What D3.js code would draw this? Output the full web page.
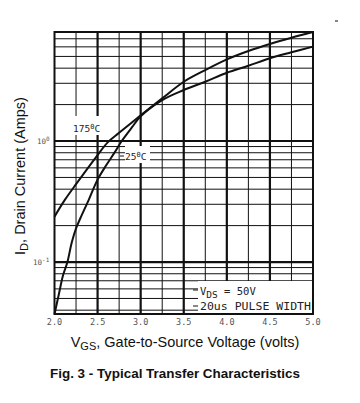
<!DOCTYPE html>
<html><head><meta charset="utf-8">
<script src="https://cdn.jsdelivr.net/npm/d3@7"></script>
<style>body{margin:0;background:#fff}svg{display:block}</style>
</head><body>
<script>
// ---- data ----
const vgs25   = [2.0, 2.05, 2.1, 2.15, 2.2, 2.25, 2.3, 2.4, 2.5, 2.6, 2.7, 2.78, 2.9, 3.0, 3.25, 3.5, 3.75, 4.0, 4.25, 4.5, 4.75, 5.0];
const id25    = [0.037, 0.054, 0.078, 0.10, 0.145, 0.19, 0.23, 0.33, 0.48, 0.63, 0.81, 1.0, 1.3, 1.6, 2.18, 2.64, 3.09, 3.67, 4.19, 4.83, 5.41, 6.03];
const vgs175  = [2.0, 2.12, 2.25, 2.5, 2.62, 2.75, 3.0, 3.25, 3.5, 3.75, 4.0, 4.25, 4.5, 4.75, 5.0];
const id175   = [0.237, 0.326, 0.44, 0.766, 0.98, 1.17, 1.63, 2.25, 3.09, 3.86, 4.73, 5.55, 6.34, 7.14, 7.96];
const xTicks  = [2.0, 2.5, 3.0, 3.5, 4.0, 4.5, 5.0];
const xTickLabels = ["2.0", "2.5", "3.0", "3.5", "4.0", "4.5", "5.0"];
const xMinor  = [2.25, 2.75, 3.25, 3.75, 4.25, 4.75];
const yMajor  = [0.1, 1];
const yMinor  = [0.04, 0.05, 0.06, 0.07, 0.08, 0.09, 0.2, 0.3, 0.4, 0.5, 0.6, 0.7, 0.8, 0.9, 2, 3, 4, 5, 6, 7];
const yTickLabels = [["10", "-1"], ["10", "0"]];

const W = 360, H = 403;
const svg = d3.select("body").append("svg").attr("width", W).attr("height", H);
const x = d3.scaleLinear().domain([2, 5]).range([54.5, 313]);
const y = d3.scaleLog().domain([0.0372, 7.96]).range([314, 32]);
const ink = "#111";

// grid
const g = svg.append("g");
g.selectAll(".vmin").data(xMinor).join("line")
  .attr("x1", d => x(d)).attr("x2", d => x(d)).attr("y1", y(7.96)).attr("y2", y(0.0372))
  .attr("stroke", ink).attr("stroke-width", 1);
g.selectAll(".vmaj").data(xTicks.slice(1, -1)).join("line")
  .attr("x1", d => x(d)).attr("x2", d => x(d)).attr("y1", y(7.96)).attr("y2", y(0.0372))
  .attr("stroke", ink).attr("stroke-width", 2.2);
g.selectAll(".hmin").data(yMinor).join("line")
  .attr("x1", x(2)).attr("x2", x(5)).attr("y1", d => y(d)).attr("y2", d => y(d))
  .attr("stroke", ink).attr("stroke-width", 1);
g.selectAll(".hmaj").data(yMajor).join("line")
  .attr("x1", x(2)).attr("x2", x(5)).attr("y1", d => y(d)).attr("y2", d => y(d))
  .attr("stroke", ink).attr("stroke-width", 2.2);

// label backgrounds
svg.append("rect").attr("x", 71).attr("y", 116).attr("width", 28).attr("height", 19).attr("fill", "#fff");
svg.append("rect").attr("x", 125).attr("y", 146).attr("width", 25).attr("height", 17).attr("fill", "#fff");
svg.append("rect").attr("x", 198).attr("y", 281).attr("width", 114).attr("height", 32).attr("fill", "#fff");

// curves
const line = d3.line().x(d => x(d[0])).y(d => y(d[1])).curve(d3.curveCatmullRom.alpha(0.5));
svg.append("path").datum(vgs25.map((v, i) => [v, id25[i]]))
  .attr("d", line).attr("fill", "none").attr("stroke", ink).attr("stroke-width", 2);
svg.append("path").datum(vgs175.map((v, i) => [v, id175[i]]))
  .attr("d", line).attr("fill", "none").attr("stroke", ink).attr("stroke-width", 2);

// border
svg.append("rect").attr("x", x(2)).attr("y", y(7.96)).attr("width", x(5) - x(2)).attr("height", y(0.0372) - y(7.96))
  .attr("fill", "none").attr("stroke", ink).attr("stroke-width", 2);

// x tick labels
const mono = "'DejaVu Sans Mono', monospace";
svg.selectAll(".xt").data(xTicks).join("text")
  .attr("x", d => x(d)).attr("y", 325).attr("text-anchor", "middle")
  .attr("font-family", mono).attr("font-size", 8.5).attr("fill", "#555")
  .text((d, i) => xTickLabels[i]);

// y tick labels
svg.selectAll(".yt").data(yMajor).join("text")
  .attr("x", d => d === 1 ? 37 : 33).attr("y", d => y(d) + 3)
  .attr("font-family", mono).attr("font-size", 7.5).attr("fill", "#555")
  .each(function (d, i) {
    const t = d3.select(this);
    t.append("tspan").text(yTickLabels[i][0]);
    t.append("tspan").attr("dy", -3).attr("font-size", 6).text(yTickLabels[i][1]);
  });

// curve labels
function tempLabel(tx, ty, num) {
  const t = svg.append("text").attr("x", tx).attr("y", ty)
    .attr("font-family", mono).attr("font-size", 9.5).attr("fill", "#222");
  t.append("tspan").text(num);
  t.append("tspan").attr("dy", -3).attr("font-size", 7).text("0");
  t.append("tspan").attr("dy", 3).text("C");
}
tempLabel(73, 132, "175");
tempLabel(125, 160, "25");
svg.append("line").attr("x1", 120).attr("x2", 124).attr("y1", 156).attr("y2", 156).attr("stroke", ink).attr("stroke-width", 1);

// legend text
const l1 = svg.append("text").attr("x", 200).attr("y", 295)
  .attr("font-family", mono).attr("font-size", 10.5).attr("fill", "#222");
l1.append("tspan").text("V");
l1.append("tspan").attr("dy", 3).attr("font-size", 9.5).text("DS");
l1.append("tspan").attr("dy", -3).text(" = 50V");
svg.append("text").attr("x", 200).attr("y", 310)
  .attr("font-family", mono).attr("font-size", 10.5).attr("fill", "#222")
  .attr("textLength", 111).attr("lengthAdjust", "spacingAndGlyphs")
  .text("20us PULSE WIDTH");
svg.append("line").attr("x1", 193).attr("x2", 198).attr("y1", 290).attr("y2", 290).attr("stroke", ink).attr("stroke-width", 1);
svg.append("line").attr("x1", 193).attr("x2", 198).attr("y1", 306).attr("y2", 306).attr("stroke", ink).attr("stroke-width", 1);

// axis titles
const sans = "'Liberation Sans', Arial, sans-serif";
const xt = svg.append("text").attr("x", 185).attr("y", 347).attr("text-anchor", "middle")
  .attr("font-family", sans).attr("font-size", 14.5).attr("fill", "#111");
xt.append("tspan").text("V");
xt.append("tspan").attr("dy", 3).attr("font-size", 11).text("GS");
xt.append("tspan").attr("dy", -3).text(", Gate-to-Source Voltage (volts)");

const yt = svg.append("text").attr("transform", "translate(25,176) rotate(-90)").attr("text-anchor", "middle")
  .attr("font-family", sans).attr("font-size", 14.5).attr("fill", "#111");
yt.append("tspan").text("I");
yt.append("tspan").attr("dy", 3).attr("font-size", 11).text("D");
yt.append("tspan").attr("dy", -3).text(", Drain Current (Amps)");

svg.append("text").attr("x", 50).attr("y", 378)
  .attr("font-family", sans).attr("font-size", 12.5).attr("font-weight", "bold").attr("fill", "#111")
  .attr("textLength", 250).attr("lengthAdjust", "spacingAndGlyphs")
  .text("Fig. 3 - Typical Transfer Characteristics");

svg.append("line").attr("x1", 335).attr("x2", 338).attr("y1", 21).attr("y2", 21).attr("stroke", "#333").attr("stroke-width", 1.2);
</script>
</body></html>
